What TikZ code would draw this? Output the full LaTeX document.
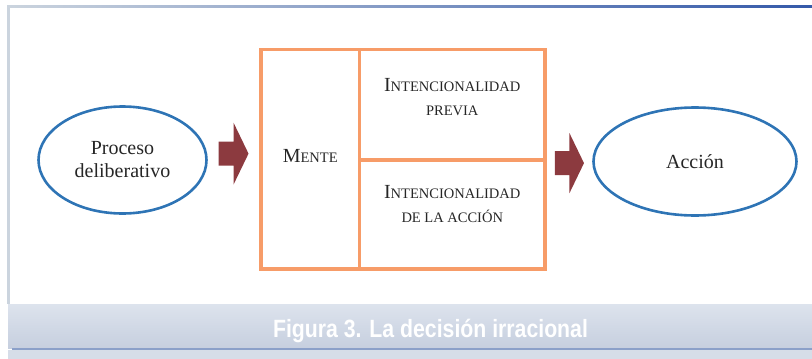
\documentclass[tikz,border=0pt]{standalone}
\usepackage{fontspec}
\setmainfont{Liberation Serif}
\newfontfamily\capfont{Liberation Sans}[FakeStretch=0.85,BoldFeatures={FakeStretch=0.85}]
\usetikzlibrary{shapes.geometric,calc}
\definecolor{ovalblue}{HTML}{2E74B5}
\definecolor{boxorange}{HTML}{F79C68}
\definecolor{arrowred}{HTML}{8C3A3F}
\definecolor{textgray}{HTML}{262626}
\definecolor{framegray}{HTML}{CBD4DE}
\definecolor{barblue}{HTML}{3459A9}
\definecolor{bandtop}{HTML}{DDE3ED}
\definecolor{bandbot}{HTML}{C6CFDF}
\definecolor{rulblue}{HTML}{8BA0C9}
\definecolor{stripgray}{HTML}{D6DDE8}
% fake small caps: big initial, small rest
\newcommand{\scbig}[1]{{\fontsize{20}{24}\selectfont #1}}
\newcommand{\scsmall}[1]{{\fontsize{14.5}{24}\selectfont #1}}
\newcommand{\bigarrow}[4]{% centre, half body, half head, half length
  \fill[arrowred] ($(#1)+(-#4,-#2)$) -- ($(#1)+(0,-#2)$) -- ($(#1)+(0,-#3)$)
    -- ($(#1)+(#4,0)$) -- ($(#1)+(0,#3)$) -- ($(#1)+(0,#2)$) -- ($(#1)+(-#4,#2)$) -- cycle;}
\begin{document}
\begin{tikzpicture}[x=1pt,y=-1pt,
    oval/.style={ellipse,draw=ovalblue,line width=2.6pt,align=center,
      text=textgray,font=\fontsize{20}{23}\selectfont,inner sep=0pt},
    cell/.style={rectangle,draw=boxorange,line width=3.5pt,inner sep=0pt},
    celltext/.style={align=center,text=textgray,inner sep=0pt,font=\fontsize{14.5}{24}\selectfont}]
    \useasboundingbox (0,0) rectangle (812,359);
    % frame
    \shade[left color=framegray,right color=barblue] (7,5) rectangle (812,7.5);
    \fill[framegray] (7,5) rectangle (10,304);
    \shade[top color=bandtop,bottom color=bandbot] (8,304) rectangle (812,348);
    \fill[stripgray] (8,350) rectangle (812,359);
    \draw[rulblue,line width=1.5pt] (12,349) -- (812,349);
    \node[text=white,font=\capfont\bfseries\fontsize{25}{28}\selectfont,anchor=base]
        (cap) at (430.5,337) {Figura 3. La decisión irracional};
    % ovals
    \node[oval,minimum width=168pt,minimum height=107pt] (proc) at (122.5,160) {Proceso\\deliberativo};
    \node[oval,minimum width=203pt,minimum height=108pt] (acc) at (695,161.5) {Acción};
    % box
    \node[cell,minimum width=98.5pt,minimum height=219.5pt] (mente) at (310.25,159.25) {};
    \node[cell,minimum width=185.5pt,minimum height=110.5pt] (prev) at (452.25,104.75) {};
    \node[cell,minimum width=185.5pt,minimum height=109pt] (iacc) at (452.25,214.5) {};
    \node[celltext] (tm) at ([yshift=3pt]mente.center) {\scbig{M}\scsmall{ENTE}};
    \node[celltext] (tp) at ([yshift=8pt]prev.center) {\scbig{I}\scsmall{NTENCIONALIDAD}\\\scsmall{PREVIA}};
    \node[celltext] (ta) at ([yshift=10pt]iacc.center) {\scbig{I}\scsmall{NTENCIONALIDAD}\\\scsmall{DE LA ACCIÓN}};
    % arrows
    \coordinate (a1) at ($(proc.east)!0.5!(mente.west)+(0,-6)$);
    \coordinate (a2) at ($(iacc.east|-prev.south)!0.5!(acc.west)+(0,1.5)$);
    \bigarrow{a1}{12}{31}{15}
    \bigarrow{a2}{12}{30}{14.5}
\end{tikzpicture}
\end{document}
